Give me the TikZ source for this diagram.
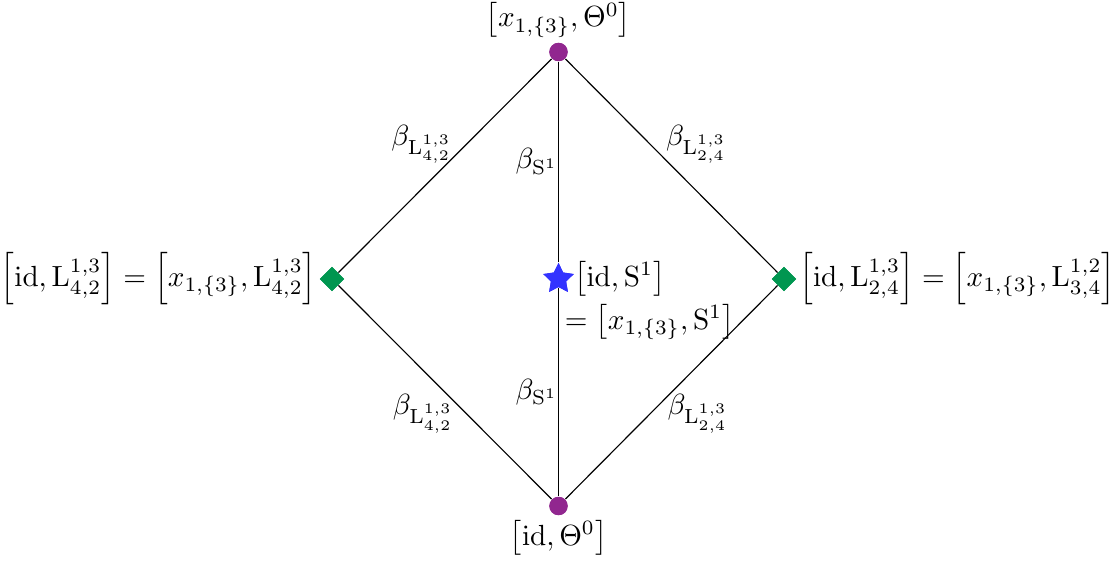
\documentclass[tikz,border=0pt]{standalone}
\usepackage{amsmath}
\usetikzlibrary{shapes.geometric}
\definecolor{vpurple}{RGB}{145,39,143}
\definecolor{vgreen}{RGB}{0,150,80}
\definecolor{vblue}{RGB}{51,51,255}
\begin{document}
\begin{tikzpicture}[x=0.343pt,y=-0.343pt,
  vcirc/.style={circle, fill=vpurple, inner sep=0pt, minimum size=6.3pt},
  vdiam/.style={diamond, fill=vgreen, inner sep=0pt, minimum size=8.5pt},
  vstar/.style={star, star points=5, star point ratio=2.0, fill=vblue, inner sep=0pt, minimum size=11pt},
  edge/.style={draw=black, line width=0.4pt},
  elab/.style={inner sep=0.5pt},
  vlab/.style={inner sep=1.5pt},
  slab/.style={inner sep=0.6pt}]
\useasboundingbox (0,0) rectangle (1118,565);
\node[vcirc] (T) at (558.5,52) {};
\node[vcirc] (B) at (558.5,506) {};
\node[vdiam] (L) at (332,279) {};
\node[vdiam] (R) at (784,279) {};
\node[vstar] (C) at (558.5,279) {};
\draw[edge] (T) -- node[above left, elab, xshift=3pt] {$\beta_{\mathrm{L}^{1,3}_{4,2}}$} (L);
\draw[edge] (T) -- node[above right, elab, xshift=-2.5pt] {$\beta_{\mathrm{L}^{1,3}_{2,4}}$} (R);
\draw[edge] (L) -- node[below left, elab, xshift=3.5pt] {$\beta_{\mathrm{L}^{1,3}_{4,2}}$} (B);
\draw[edge] (R) -- node[below right, elab, xshift=-2pt] {$\beta_{\mathrm{L}^{1,3}_{2,4}}$} (B);
\draw[edge] (T) -- node[left, elab, xshift=0.5pt] {$\beta_{\mathrm{S}^1}$} (C);
\draw[edge] (C) -- node[left, elab, xshift=0.5pt] {$\beta_{\mathrm{S}^1}$} (B);
\node[vcirc] at (T) {};
\node[vcirc] at (B) {};
\node[vdiam] at (L) {};
\node[vdiam] at (R) {};
\node[vstar] at (C) {};
\node[anchor=south, vlab] (Tlab) at (T.north) {$\left[x_{1,\{3\}},\Theta^0\right]$};
\node[anchor=north, vlab] (Blab) at (B.south) {$\left[\mathrm{id},\Theta^0\right]$};
\node[anchor=east, slab] (Llab) at (L.west) {$\left[\mathrm{id},\mathrm{L}^{1,3}_{4,2}\right]=\left[x_{1,\{3\}},\mathrm{L}^{1,3}_{4,2}\right]$};
\node[anchor=west, slab] (Rlab) at (R.east) {$\left[\mathrm{id},\mathrm{L}^{1,3}_{2,4}\right]=\left[x_{1,\{3\}},\mathrm{L}^{1,2}_{3,4}\right]$};
\node[anchor=west, vlab] (Clab) at (C.east) {$\left[\mathrm{id},\mathrm{S}^1\right]$};
\node[anchor=west, vlab] (Clab2) at (560,322) {$=\left[x_{1,\{3\}},\mathrm{S}^1\right]$};
\end{tikzpicture}
\end{document}
